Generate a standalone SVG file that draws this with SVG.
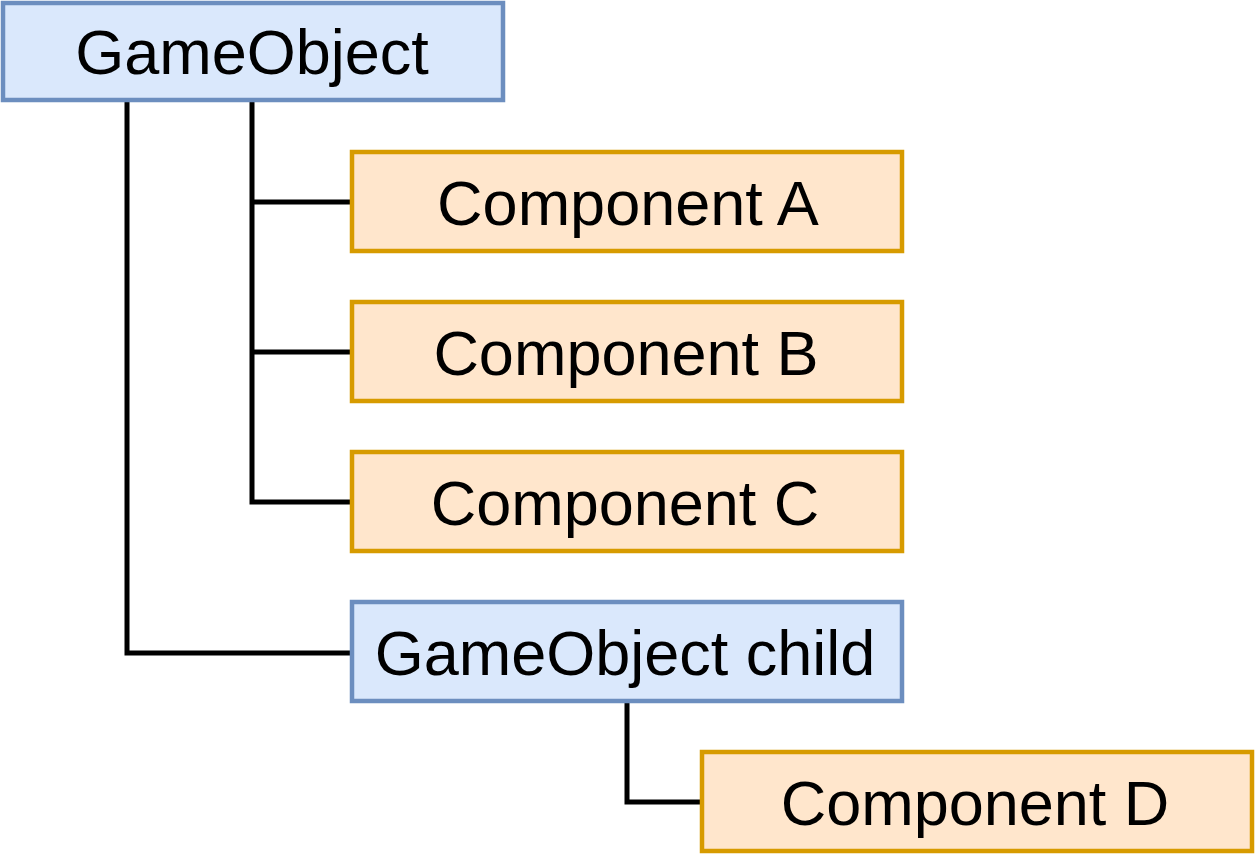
<svg xmlns="http://www.w3.org/2000/svg" width="1255" height="855" viewBox="0 0 1255 855">
<style>
.blue{fill:#dae8fc;stroke:#6c8ebf;stroke-width:4.5}
.orange{fill:#ffe6cc;stroke:#d79b00;stroke-width:4.5}
.lbl{font-family:"Liberation Sans",Arial,sans-serif;font-size:63px;fill:#000;text-anchor:middle}
.conn{fill:none;stroke:#000;stroke-width:5;stroke-linejoin:miter}
</style>
<rect width="1255" height="855" fill="#fff"/>
<g id="connectors">
<path class="conn" d="M127 102 V653 H350"/>
<path class="conn" d="M252 102 V502 H350"/>
<path class="conn" d="M252 202 H350"/>
<path class="conn" d="M252 352 H350"/>
<path class="conn" d="M627 703 V802 H700"/>
</g>
<g id="gameobject">
<rect class="blue" x="3" y="3" width="500" height="97"/>
<text class="lbl" x="252" y="74">GameObject</text>
</g>
<g id="componentA">
<rect class="orange" x="352" y="152" width="550" height="99"/>
<text class="lbl" x="628" y="225">Component A</text>
</g>
<g id="componentB">
<rect class="orange" x="352" y="302" width="550" height="99"/>
<text class="lbl" x="626" y="375">Component B</text>
</g>
<g id="componentC">
<rect class="orange" x="352" y="452" width="550" height="99"/>
<text class="lbl" x="625" y="525">Component C</text>
</g>
<g id="gameobjectchild">
<rect class="blue" x="352" y="602" width="550" height="99"/>
<text class="lbl" x="625" y="675">GameObject child</text>
</g>
<g id="componentD">
<rect class="orange" x="702" y="752" width="550" height="99"/>
<text class="lbl" x="975" y="825">Component D</text>
</g>
</svg>
